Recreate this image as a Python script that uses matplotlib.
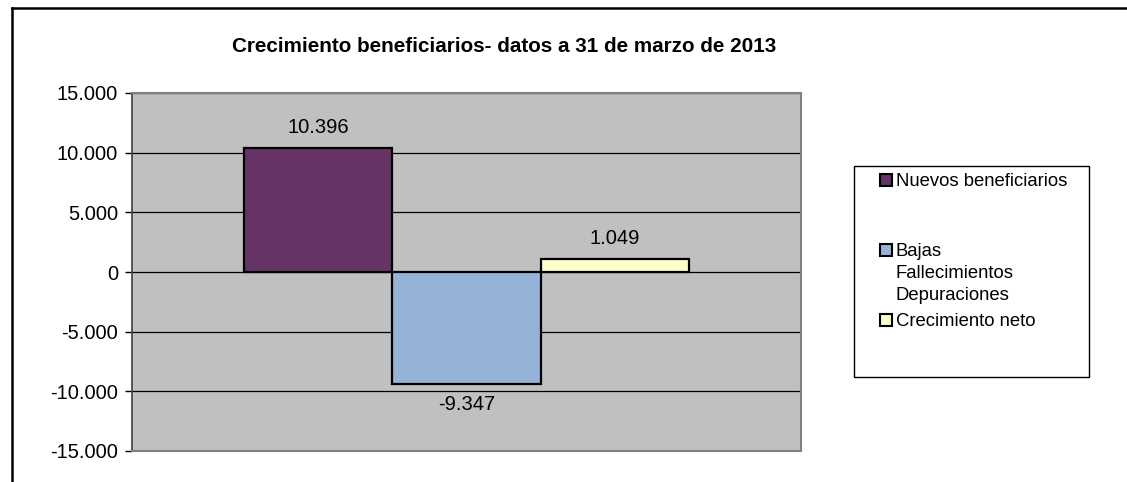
import numpy as np
import matplotlib
matplotlib.use('Agg')
import matplotlib.pyplot as plt
from matplotlib.patches import Rectangle
from matplotlib.lines import Line2D
from matplotlib.ticker import FuncFormatter

plt.rcParams['font.family'] = ['Liberation Sans', 'DejaVu Sans']

# data
title = 'Crecimiento beneficiarios- datos a 31 de marzo de 2013'
series = ['Nuevos beneficiarios', 'Bajas\nFallecimientos\nDepuraciones', 'Crecimiento neto']
values = [10396, -9347, 1049]
colors = ['#663366', '#95B3D7', '#FFFFCC']
yticks = [-15000, -10000, -5000, 0, 5000, 10000, 15000]


def fmt_es(v, pos=None):
    s = '{:,.0f}'.format(v).replace(',', '.')
    return s


fig = plt.figure(figsize=(11.27, 4.82), dpi=100)
ax = fig.add_axes([132/1127., 1 - 451/482., (801 - 132)/1127., (451 - 93)/482.])
ax.set_facecolor('#C0C0C0')

xpos = np.arange(len(values)) - 1.0
bars = ax.bar(xpos, values, width=1.0, color=colors, edgecolor='black', linewidth=1.6, zorder=3)

ax.set_xlim(-2.25, 2.25)
ax.set_ylim(-15000, 15000)
ax.set_yticks(yticks)
ax.yaxis.set_major_formatter(FuncFormatter(fmt_es))
ax.set_xticks([])
ax.tick_params(axis='y', labelsize=14.5, direction='out', length=5, width=1, color='black', pad=5)
ax.yaxis.grid(True, color='black', linewidth=0.9, zorder=1)

for side in ['top', 'right', 'bottom']:
    ax.spines[side].set_color('#808080')
    ax.spines[side].set_linewidth(1.5)
ax.spines['left'].set_color('#404040')
ax.spines['left'].set_linewidth(1.2)

# data labels
for x, v in zip(xpos, values):
    off = 15 if v >= 0 else -15
    ax.annotate(fmt_es(v), (x, v), xytext=(0, off), textcoords='offset points',
                ha='center', va='center', fontsize=14.5)

fig.text(504/1127., 1 - 47/482., title, ha='center', va='center', fontsize=14.9, fontweight='bold')

# legend box (drawn by hand to keep excel-like spacing)
W, H = 1127., 482.
fig.patches.append(Rectangle((854/W, 1 - 377/H), (1089 - 854)/W, (377 - 166)/H,
                             transform=fig.transFigure, facecolor='white', edgecolor='black',
                             linewidth=1.0, zorder=5))
leg_y = [180, 250, 320]
for y, lab, c in zip(leg_y, series, colors):
    fig.patches.append(Rectangle((880/W, 1 - (y + 6)/H), 12/W, 12/H, transform=fig.transFigure,
                                 facecolor=c, edgecolor='black', linewidth=1.5, zorder=6))
    fig.text(896/W, 1 - (y - 7)/H, lab, ha='left', va='top', fontsize=13.3,
             linespacing=1.37, zorder=7)

# outer frame lines (top and left only)
fig.add_artist(Line2D([12/W, 1.0], [1 - 8/H, 1 - 8/H], transform=fig.transFigure, color='black', linewidth=1.8))
fig.add_artist(Line2D([12/W, 12/W], [0.0, 1 - 8/H], transform=fig.transFigure, color='black', linewidth=1.8))

fig.savefig('out.png', dpi=100)
